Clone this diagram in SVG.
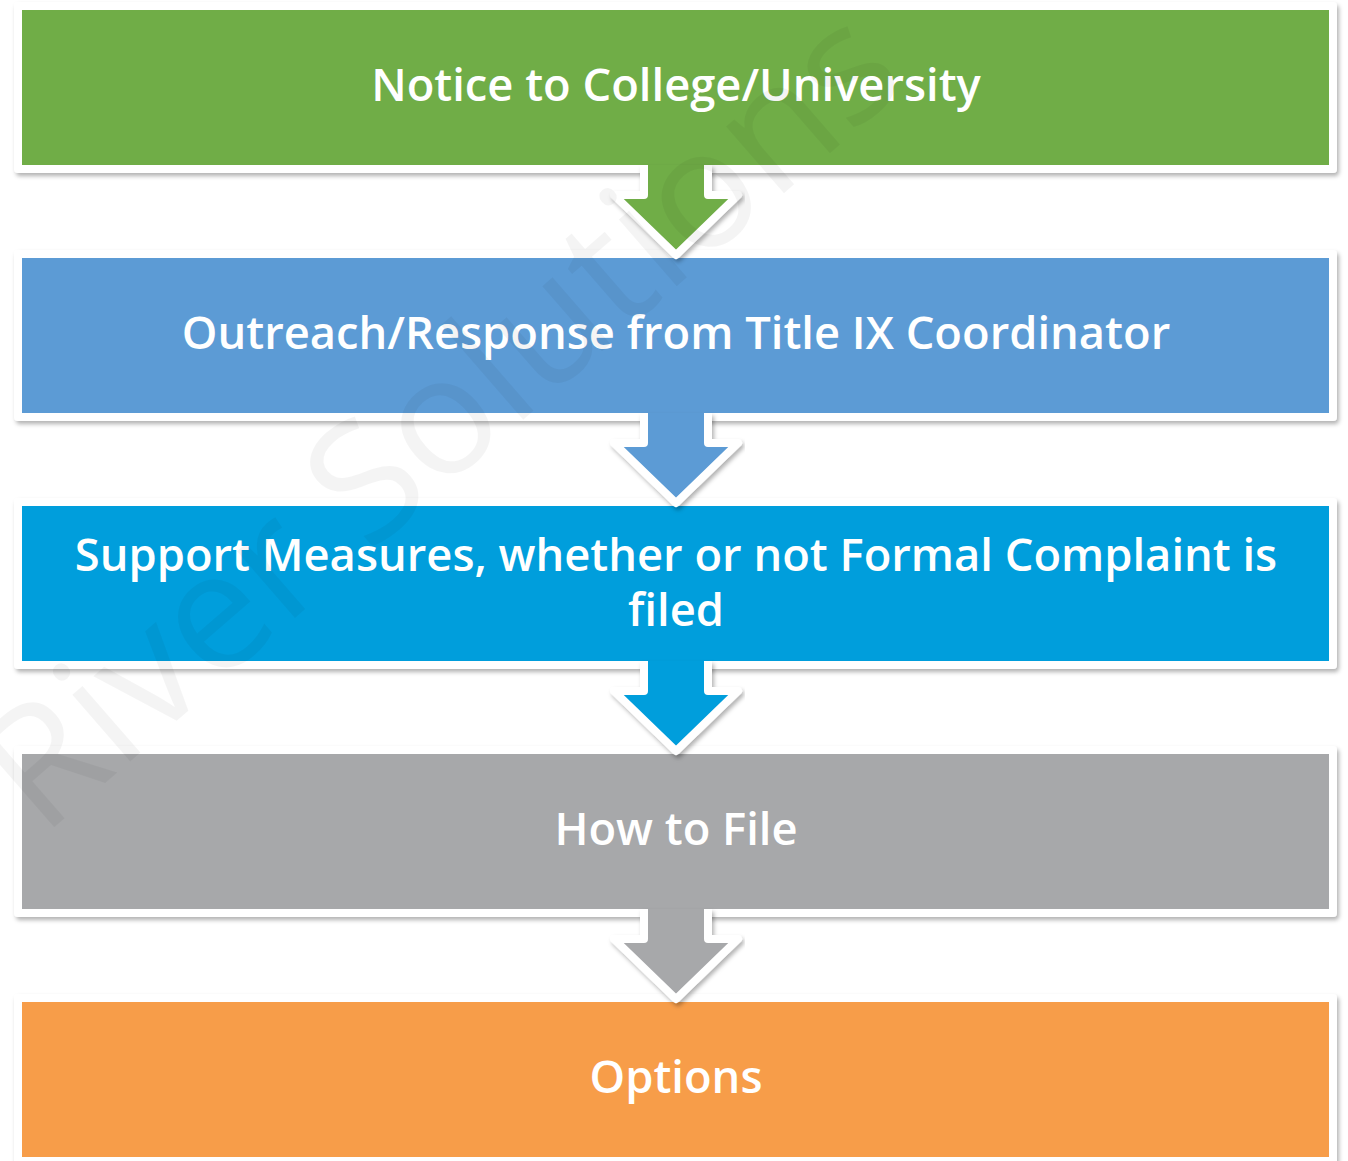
<svg xmlns="http://www.w3.org/2000/svg" width="1348" height="1161" viewBox="0 0 1348 1161">
  <defs>
    <filter id="sh" x="-5%" y="-20%" width="110%" height="150%">
      <feDropShadow dx="2" dy="3" stdDeviation="2" flood-color="#000" flood-opacity="0.3"/>
    </filter>
    <style>
      .box { stroke: #fff; stroke-width: 8; stroke-linejoin: round; filter: url(#sh); }
      .arr { stroke: #fff; stroke-width: 8; stroke-linejoin: round; stroke-linecap: butt; filter: url(#sh); }
      .lbl { font-family: "Open Sans", "Noto Sans", "Liberation Sans", sans-serif; font-weight: 600; font-size: 45.3px; fill: #fff; text-anchor: middle; }
      .wm { font-family: "Open Sans", "Noto Sans", "Liberation Sans", sans-serif; font-weight: 400; font-size: 165px; fill: #000; fill-opacity: 0.045; }
      .g { fill: #70AD47; } .b { fill: #5B9BD5; } .c { fill: #049EDC; } .s { fill: #A7A8AA; } .o { fill: #F79D4A; }
    </style>
  </defs>
  <rect width="1348" height="1161" fill="#fff"/>

  <g id="node-notice">
    <rect class="box g" x="18" y="6" width="1315" height="163"/>
    <text class="lbl" x="676" y="101">Notice to College/University</text>
  </g>
  <g id="node-outreach">
    <rect class="box b" x="18" y="254" width="1315" height="163"/>
    <text class="lbl" x="676" y="349">Outreach/Response from Title IX Coordinator</text>
  </g>
  <g id="node-support">
    <rect class="box c" x="18" y="502" width="1315" height="163"/>
    <text class="lbl" x="676" y="571">Support Measures, whether or not Formal Complaint is</text>
    <text class="lbl" x="676" y="626">filed</text>
  </g>
  <g id="node-howtofile">
    <rect class="box s" x="18" y="750" width="1315" height="163"/>
    <text class="lbl" x="676" y="845">How to File</text>
  </g>
  <g id="node-options">
    <rect class="box o" x="18" y="998" width="1315" height="163"/>
    <text class="lbl" x="676" y="1093">Options</text>
  </g>

  <g id="connectors">
    <path class="arr g" d="M644,165 V195 H614 L676,255 L738,195 H708 V165"/>
    <path class="arr b" d="M644,413 V443 H614 L676,503 L738,443 H708 V413"/>
    <path class="arr c" d="M644,661 V691 H614 L676,751 L738,691 H708 V661"/>
    <path class="arr s" d="M644,909 V939 H614 L676,999 L738,939 H708 V909"/>
  </g>

  <text class="wm" transform="translate(42,838) rotate(-41)" textLength="1150" lengthAdjust="spacingAndGlyphs">River Solutions</text>
</svg>
